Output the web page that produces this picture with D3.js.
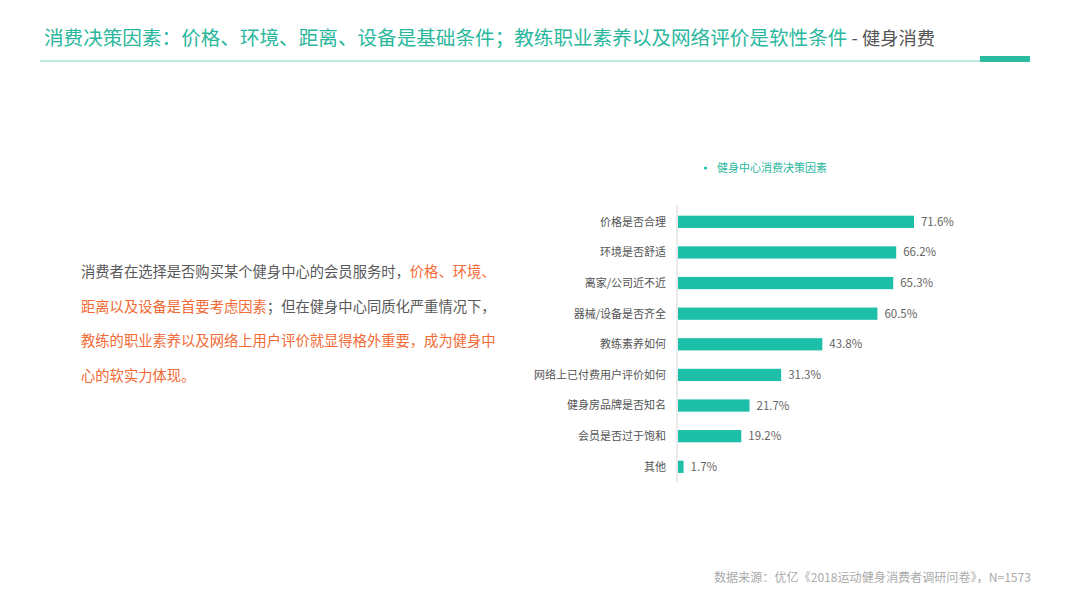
<!DOCTYPE html>
<html><head><meta charset="utf-8">
<script src="https://cdn.jsdelivr.net/npm/d3@7/dist/d3.min.js"></script>
<style>
html,body{margin:0;padding:0;background:#fff;}
svg{display:block;font-family:"Noto Sans CJK SC","Noto Sans",sans-serif;}
</style></head>
<body>
<svg id="c" width="1080" height="609"></svg>
<script>
const categories = ["价格是否合理","环境是否舒适","离家/公司近不近","器械/设备是否齐全","教练素养如何","网络上已付费用户评价如何","健身房品牌是否知名","会员是否过于饱和","其他"];
const values = [71.6, 66.2, 65.3, 60.5, 43.8, 31.3, 21.7, 19.2, 1.7];
const seriesName = "健身中心消费决策因素";
const titleMain = "消费决策因素：价格、环境、距离、设备是基础条件；教练职业素养以及网络评价是软性条件";
const titleSub = " - 健身消费";
const bodyLines = [
  [["消费者在选择是否购买某个健身中心的会员服务时，", 0], ["价格、环境、", 1]],
  [["距离以及设备是首要考虑因素", 1], ["；但在健身中心同质化严重情况下，", 0]],
  [["教练的职业素养以及网络上用户评价就显得格外重要，成为健身中", 1]],
  [["心的软实力体现。", 1]]
];
const sourceText = "数据来源：优亿《2018运动健身消费者调研问卷》，N=1573";

const teal = "#1dbfa8", titleTeal = "#2ab79d", gray = "#595959", orange = "#f26a35";
const svg = d3.select("#c");

// Title
const t = svg.append("text").attr("x", 44).attr("y", 45);
t.append("tspan").attr("fill", titleTeal).attr("font-size", 19.6).text(titleMain);
t.append("tspan").attr("fill", "#555").attr("font-size", 18.3).text(titleSub);
svg.append("line").attr("x1", 40).attr("x2", 980).attr("y1", 61).attr("y2", 61)
  .attr("stroke", "#7fd3c4").attr("stroke-width", 1.2);
svg.append("rect").attr("x", 980).attr("y", 56).attr("width", 50).attr("height", 6).attr("fill", "#2bbb9f");

// Body text
bodyLines.forEach((line, i) => {
  const tx = svg.append("text").attr("x", 81).attr("y", 277 + i * 34.6).attr("font-size", 14.3);
  line.forEach(([s, hi]) => tx.append("tspan").attr("fill", hi ? orange : gray).text(s));
});

// Chart
const x = d3.scaleLinear().domain([0, 80]).range([678, 678 + 80 * 3.296]);
const y = d3.scaleBand().domain(categories).range([206.5, 482.1]).paddingInner(0.6).paddingOuter(0.3);

svg.append("line").attr("x1", 677).attr("x2", 677).attr("y1", 205).attr("y2", 482)
  .attr("stroke", "#e3e3e3").attr("stroke-width", 1.5);

const data = categories.map((c, i) => ({c, v: values[i]}));
svg.selectAll("rect.bar").data(data).join("rect").attr("class", "bar")
  .attr("x", x(0)).attr("y", d => y(d.c)).attr("width", d => x(d.v) - x(0))
  .attr("height", y.bandwidth()).attr("fill", teal);

svg.selectAll("text.cat").data(data).join("text").attr("class", "cat")
  .attr("x", 666).attr("y", d => y(d.c) + y.bandwidth() / 2).attr("dy", "0.35em")
  .attr("text-anchor", "end").attr("font-size", 11).attr("fill", "#555").text(d => d.c);

svg.selectAll("text.val").data(data).join("text").attr("class", "val")
  .attr("x", d => x(d.v) + 7).attr("y", d => y(d.c) + y.bandwidth() / 2).attr("dy", "0.35em")
  .attr("font-size", 11.5).attr("fill", "#666").text(d => d.v.toFixed(1) + "%");

// Legend
svg.append("circle").attr("cx", 705.5).attr("cy", 168).attr("r", 1.6).attr("fill", teal);
svg.append("text").attr("x", 717).attr("y", 168).attr("dy", "0.35em").attr("font-size", 11)
  .attr("fill", titleTeal).text(seriesName);

// Source
svg.append("text").attr("x", 1031).attr("y", 578).attr("dy", "0.35em").attr("text-anchor", "end")
  .attr("font-size", 12.1).attr("fill", "#aaa").text(sourceText);
</script>
</body></html>
